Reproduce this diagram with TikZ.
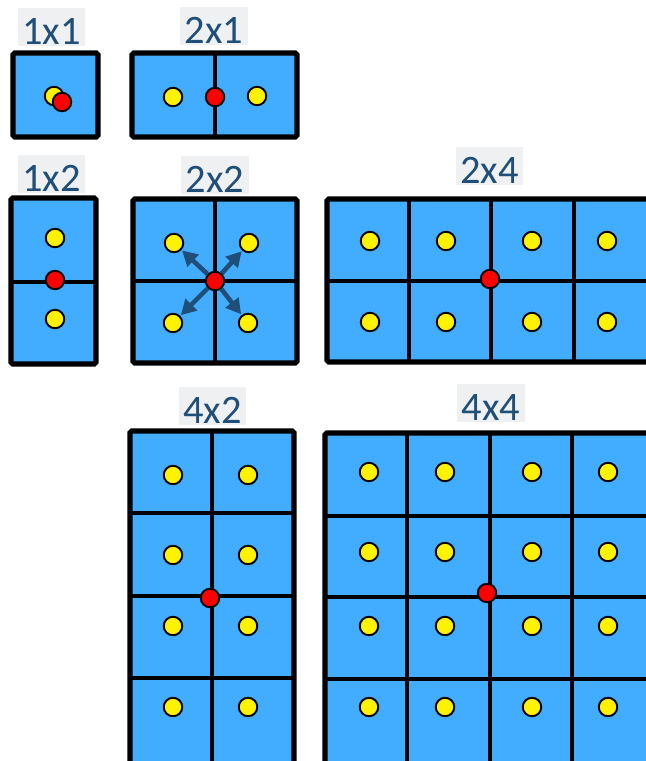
\documentclass[tikz,border=0pt]{standalone}
\usepackage{fontspec}
\setsansfont{Carlito}
\usetikzlibrary{arrows.meta}
\definecolor{cellblue}{HTML}{42ADFE}
\definecolor{labelblue}{HTML}{1F4E79}
\definecolor{labelgrey}{HTML}{EEF0F2}

\begin{document}
\begin{tikzpicture}[
  x=0.02cm, y=-0.02cm,
  board/.style={draw=black, fill=cellblue, line width=3pt, rounded corners=1pt},
  wall/.style={draw=black, line width=2.7pt},
  sample/.style={circle, draw=black, line width=1.1pt, minimum size=0.37cm, inner sep=0pt},
  texel/.style={sample, fill=yellow},
  probe/.style={sample, fill=red},
  tag/.style={fill=labelgrey, text=labelblue, font=\sffamily\fontsize{23}{27}\selectfont,
              inner sep=0pt, minimum width=1.36cm, text height=0.72cm, text depth=0.04cm, anchor=base},
  flow/.style={-{Triangle[length=3mm, width=3.2mm]}, line width=2.6pt, draw=labelblue, shorten >=0.5pt}
]
\useasboundingbox (0,0) rectangle (646,761);
\clip (0,0) rectangle (646,761);

\node[tag] (t11) at (51.5,44) {1x1};
\node[tag] (t21) at (214,43) {2x1};
\node[tag] (t12) at (51.5,191) {1x2};
\node[tag] (t22) at (215,192) {2x2};
\node[tag] (t24) at (489.5,183) {2x4};
\node[tag] (t42) at (212.5,423) {4x2};
\node[tag] (t44) at (491,420) {4x4};

% 1x1
\draw[board] (13,53) rectangle (98,137);
\node[texel] (a1) at (54,96) {};
\node[probe] (a0) at (62,102) {};

% 2x1
\draw[board] (132,53) rectangle (297,137);
\draw[wall] (215,53) -- (215,137);
\node[texel] (b1) at (173,97) {};
\node[texel] (b2) at (257,96) {};
\node[probe] (b0) at (215,97) {};

% 1x2
\draw[board] (11,198) rectangle (96,364);
\draw[wall] (11,282) -- (96,282);
\node[texel] (c1) at (55,238) {};
\node[texel] (c2) at (55,319) {};
\node[probe] (c0) at (55,280) {};

% 2x2
\draw[board] (133,199) rectangle (297,363);
\draw[wall] (215,199) -- (215,363) (133,281) -- (297,281);
\node[texel] (d1) at (174,243) {};
\node[texel] (d2) at (249,243) {};
\node[texel] (d3) at (173,323) {};
\node[texel] (d4) at (248,323) {};
\node[probe] (d0) at (215,281) {};
\foreach \k in {1,...,4}
  \draw[flow] (d0) -- (d\k);

% 2x4
\draw[board] (327,199) rectangle (660,362);
\foreach \x in {409,491,574}
  \draw[wall] (\x,199) -- (\x,362);
\draw[wall] (327,281) -- (660,281);
\foreach \x [count=\i] in {370,446,532,607} {
  \node[texel] (e\i) at (\x,241) {};
  \node[texel] (f\i) at (\x,322) {};
}
\node[probe] (e0) at (490,279) {};

% 4x2
\draw[board] (130,431) rectangle (294,765);
\draw[wall] (212,431) -- (212,765);
\foreach \y in {513,596,678}
  \draw[wall] (130,\y) -- (294,\y);
\foreach \y [count=\j] in {475,555,626,707} {
  \node[texel] (g\j) at (173,\y) {};
  \node[texel] (h\j) at (248,\y) {};
}
\node[probe] (g0) at (210,598) {};

% 4x4
\draw[board] (325,433) rectangle (660,765);
\foreach \x in {407,490,572}
  \draw[wall] (\x,433) -- (\x,765);
\foreach \y in {516,597,679}
  \draw[wall] (325,\y) -- (660,\y);
\foreach \x [count=\i] in {369,445,532,608}
  \foreach \y [count=\j] in {472,552,626,707}
    \node[texel] (q\i\j) at (\x,\y) {};
\node[probe] (q0) at (487,593) {};
\end{tikzpicture}
\end{document}
